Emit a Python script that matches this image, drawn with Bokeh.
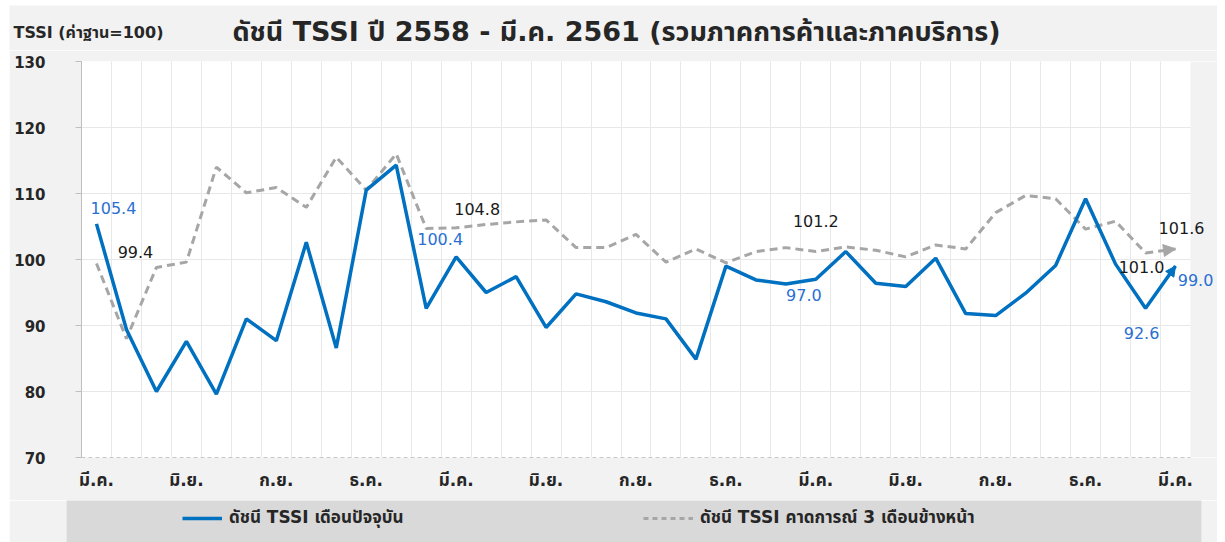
from bokeh.plotting import figure
from bokeh.models import (ColumnDataSource, FixedTicker, Label, Legend, BoxAnnotation,
                          LegendItem, Arrow, NormalHead, Range1d)
from bokeh.layouts import column
from bokeh.embed import file_html
from bokeh.resources import INLINE

# ---------------- data ----------------
months = (["มี.ค.", "เม.ย.", "พ.ค.", "มิ.ย.", "ก.ค.", "ส.ค.",
           "ก.ย.", "ต.ค.", "พ.ย.", "ธ.ค.", "ม.ค.", "ก.พ."] * 3) + ["มี.ค."]

current = [105.4, 89.4, 80.0, 87.6, 79.6, 91.0, 87.7, 102.6, 86.6, 110.5,
           114.3, 92.6, 100.4, 95.0, 97.4, 89.7, 94.8, 93.6, 91.9, 91.0,
           84.9, 99.0, 96.9, 96.3, 97.0, 101.2, 96.4, 95.9, 100.2, 91.8,
           91.5, 94.9, 99.1, 109.2, 99.3, 92.6, 99.0]

expected = [99.4, 88.0, 98.8, 99.6, 114.0, 110.1, 110.9, 107.9, 115.5, 110.5,
            116.0, 104.7, 104.8, 105.3, 105.7, 106.0, 101.8, 101.8, 103.8, 99.6,
            101.6, 99.5, 101.2, 101.8, 101.2, 101.9, 101.4, 100.4, 102.2, 101.6,
            107.1, 109.7, 109.2, 104.6, 105.8, 101.0, 101.6]

label_idx = [0, 12, 24, 35, 36]
y_ticks = [70, 80, 90, 100, 110, 120, 130]

title_text = "ดัชนี TSSI ปี 2558 - มี.ค. 2561 (รวมภาคการค้าและภาคบริการ)"
ylabel_text = "TSSI (ค่าฐาน=100)"
name_cur = "ดัชนี TSSI เดือนปัจจุบัน"
name_exp = "ดัชนี TSSI คาดการณ์ 3 เดือนข้างหน้า"

# ---------------- styles / layout ----------------
FONT = "DejaVu Sans, Noto Sans Thai, Loma, Garuda, sans-serif"
BLUE = "#0070c0"
GRAY = "#a6a6a6"
BG = "#f2f2f2"
TXT = "#262626"
W = 1208

n = len(months)
idx = list(range(n))

# ---- header strip (title + unit label) ----
p0 = figure(width=W, height=45, x_range=Range1d(0, 1), y_range=Range1d(0, 1),
            output_backend="svg", toolbar_location=None, x_axis_type=None, y_axis_type=None,
            min_border_left=0, min_border_right=0, min_border_top=0, min_border_bottom=0,
            background_fill_color=BG, border_fill_color=BG, outline_line_color=None,
            frame_align=False)
p0.xgrid.visible = False
p0.ygrid.visible = False
p0.add_layout(Label(x=4, y=18, x_units="screen", y_units="screen", text=ylabel_text,
                    text_font=FONT, text_font_size="16px", text_font_style="bold",
                    text_color=TXT, text_baseline="middle"))
p0.add_layout(Label(x=223, y=19, x_units="screen", y_units="screen", text=title_text,
                    text_font=FONT, text_font_size="27px", text_font_style="bold",
                    text_color=TXT, text_baseline="middle"))

# ---- main chart ----
left_b, right_b = 72, 0
plot_w = 1109                      # width of the white plotting area in px
frame_w = W - left_b - right_b
x_end = -0.5 + n * frame_w / plot_w   # a little room right of the last month for its labels

p = figure(width=W, height=450,
           x_range=Range1d(-0.5, x_end), y_range=Range1d(y_ticks[0], y_ticks[-1]),
           output_backend="svg", toolbar_location=None,
           min_border_left=left_b, min_border_right=right_b, min_border_top=11, min_border_bottom=43,
           background_fill_color="white", border_fill_color=BG, outline_line_color=None,
           frame_align=False)

# axes
p.xaxis.bounds = (-0.5, n - 0.5)
p.xaxis.ticker = FixedTicker(ticks=idx[::3])
p.xaxis.major_label_overrides = {i: months[i] for i in idx[::3]}
p.xaxis.major_tick_line_color = None
p.xaxis.minor_tick_line_color = None
p.xaxis.axis_line_color = "#c8c8c8"
p.xaxis.axis_line_dash = "4 3"
p.xaxis.major_label_standoff = 6
p.xaxis.major_label_text_font = FONT
p.xaxis.major_label_text_font_size = "17px"
p.xaxis.major_label_text_font_style = "bold"
p.xaxis.major_label_text_color = TXT

p.yaxis.ticker = FixedTicker(ticks=y_ticks)
p.yaxis.minor_tick_line_color = None
p.yaxis.major_tick_in = 0
p.yaxis.major_tick_out = 6
p.yaxis.major_tick_line_color = "#bfbfbf"
p.yaxis.axis_line_color = "#bfbfbf"
p.yaxis.major_label_standoff = 30
p.yaxis.major_label_text_font = FONT
p.yaxis.major_label_text_font_size = "15px"
p.yaxis.major_label_text_font_style = "bold"
p.yaxis.major_label_text_color = TXT

# grids: vertical lines between month categories
p.xgrid.ticker = FixedTicker(ticks=[i + 0.5 for i in idx[:-1]])
p.ygrid.ticker = FixedTicker(ticks=y_ticks[1:-1])
p.xgrid.grid_line_color = "#e8e8e8"
p.ygrid.grid_line_color = "#e8e8e8"

# grey margin to the right of the plotting area (covers grid lines there)
p.add_layout(BoxAnnotation(left=n - 0.5, fill_color=BG, fill_alpha=1.0,
                           line_color=None, level="underlay"))

src = ColumnDataSource(dict(x=idx, cur=current, exp=expected))
p.line("x", "exp", source=src, line_color=GRAY, line_width=3, line_dash="8 5")
p.line("x", "cur", source=src, line_color=BLUE, line_width=3.5)

p.add_layout(Arrow(end=NormalHead(size=12, fill_color=GRAY, line_color=GRAY),
                   x_start=idx[-2], y_start=expected[-2], x_end=idx[-1], y_end=expected[-1],
                   line_color=None))
p.add_layout(Arrow(end=NormalHead(size=10, fill_color=BLUE, line_color=BLUE),
                   x_start=idx[-2], y_start=current[-2], x_end=idx[-1], y_end=current[-1],
                   line_color=None))

# value labels (offsets in pixels, y up)
cur_dx = [17, -16, -12, -4, 20]
cur_dy = [16, 18, -16, -25, -14]
exp_dx = [39, 21, 0, -4, 6]
exp_dy = [11, 19, 31, -14, 21]

for series, dxs, dys, col in ((current, cur_dx, cur_dy, "#2a6fd2"),
                              (expected, exp_dx, exp_dy, "#1a1a1a")):
    for i, dx, dy in zip(label_idx, dxs, dys):
        p.add_layout(Label(x=idx[i], y=series[i], x_offset=dx, y_offset=dy,
                           text="%.1f" % series[i], text_align="center",
                           text_baseline="middle", text_color=col,
                           text_font=FONT, text_font_size="16px"))

# ---------------- legend strip ----------------
p2 = figure(width=W, height=42, x_range=Range1d(0, 1), y_range=Range1d(0, 1),
            output_backend="svg", toolbar_location=None, x_axis_type=None, y_axis_type=None,
            min_border_left=57, min_border_right=16, min_border_top=0, min_border_bottom=0,
            background_fill_color="#d9d9d9", border_fill_color=BG, outline_line_color=None,
            frame_align=False)
p2.xgrid.visible = False
p2.ygrid.visible = False
# placeholder renderers (outside the visible range) that only supply legend glyphs
l1 = p2.line(x=[5, 6], y=[5, 5], line_color=BLUE, line_width=3.5)
l2 = p2.line(x=[5, 6], y=[5, 5], line_color=GRAY, line_width=3, line_dash="5 4")

for r, name, loc, gw in ((l1, name_cur, (116, 11), 40), (l2, name_exp, (577, 11), 50)):
    lg = Legend(items=[LegendItem(label=name, renderers=[r])], location=loc,
                orientation="horizontal", glyph_width=gw, label_standoff=7, padding=0,
                margin=0, border_line_color=None, background_fill_alpha=0,
                label_text_font=FONT, label_text_font_size="17px",
                label_text_font_style="bold", label_text_color=TXT)
    p2.add_layout(lg)

layout = column(p0, p, p2, spacing=0, margin=(5, 0, 0, 9))
open("out.html", "w").write(file_html(layout, INLINE))
